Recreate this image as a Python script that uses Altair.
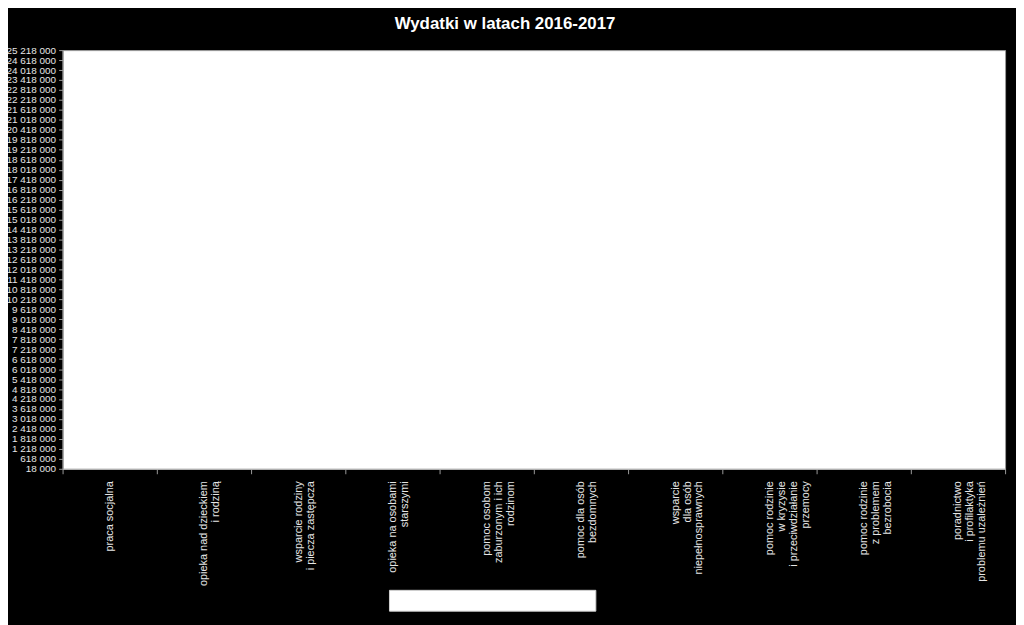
import altair as alt
import pandas as pd

categories = [
    "praca socjalna",
    "opieka nad dzieckiem\ni rodziną",
    "wsparcie rodziny\ni piecza zastępcza",
    "opieka na osobami\nstarszymi",
    "pomoc osobom\nzaburzonym i ich\nrodzinom",
    "pomoc dla osób\nbezdomnych",
    "wsparcie\ndla osób\nniepełnosprawnych",
    "pomoc rodzinie\nw kryzysie\ni przeciwdziałanie\nprzemocy",
    "pomoc rodzinie\nz problemem\nbezrobocia",
    "poradnictwo\ni profilaktyka\nproblemu uzależnień",
]
series = ["2016", "2017"]
values_2016 = [0, 0, 0, 0, 0, 0, 0, 0, 0, 0]
values_2017 = [0, 0, 0, 0, 0, 0, 0, 0, 0, 0]

y_min = 18000
y_max = 25218000
y_step = 600000
y_ticks = list(range(y_min, y_max + 1, y_step))

rows = []
for i, c in enumerate(categories):
    rows.append({"kategoria": c, "rok": "2016", "wartosc": values_2016[i]})
    rows.append({"kategoria": c, "rok": "2017", "wartosc": values_2017[i]})
df = pd.DataFrame(rows)

FONT = "Liberation Sans"
LABEL = "#e6e6e6"

chart = (
    alt.Chart(df)
    .mark_bar(clip=True)
    .encode(
        x=alt.X(
            "kategoria:N",
            sort=categories,
            title=None,
            scale=alt.Scale(paddingInner=0, paddingOuter=0),
            axis=alt.Axis(
                labelAngle=-90,
                labelAlign="right",
                labelBaseline="middle",
                labelExpr="split(datum.label, '\\n')",
                labelLineHeight=12,
                labelPadding=7,
                labelFont=FONT,
                labelFontSize=11,
                labelColor=LABEL,
                tickBand="extent",
                tickColor="#9a9a9a",
                tickSize=5,
                domainColor="#bdbdbd",
                labelLimit=300,
                grid=False,
            ),
        ),
        xOffset=alt.XOffset("rok:N", sort=series),
        y=alt.Y(
            "wartosc:Q",
            title=None,
            scale=alt.Scale(domain=[y_min, y_max], zero=False, nice=False),
            axis=alt.Axis(
                values=y_ticks,
                labelExpr="replace(replace(format(datum.value, ','), ',', ' '), ',', ' ')",
                labelOverlap=False,
                labelFont=FONT,
                labelFontSize=10,
                labelColor=LABEL,
                labelPadding=3,
                tickColor="#9a9a9a",
                tickSize=4,
                domainColor="#9a9a9a",
                grid=False,
            ),
        ),
        color=alt.Color(
            "rok:N",
            sort=series,
            scale=alt.Scale(domain=series, range=["#ffffff", "#ffffff"]),
            legend=alt.Legend(
                title=None,
                orient="none",
                legendX=329,
                legendY=544,
                direction="horizontal",
                fillColor="#ffffff",
                strokeColor="#d0d0d0",
                padding=4,
                labelColor="#ffffff",
                labelFontSize=11,
                labelFont=FONT,
                symbolType="square",
                symbolSize=60,
                columnPadding=118,
                symbolStrokeColor="#ffffff",
            ),
        ),
    )
    .properties(
        width=950,
        height=422,
        background="#000000",
        padding={"left": 55, "top": 40, "right": 11, "bottom": 155},
        autosize=alt.AutoSizeParams(type="none"),
        title=alt.TitleParams(
            "Wydatki w latach 2016-2017",
            color="#ffffff",
            font=FONT,
            fontSize=17,
            fontWeight="bold",
            anchor="middle",
            dx=-29,
            offset=12,
        ),
    )
    .configure_view(fill="#ffffff", stroke="#9a9a9a", strokeWidth=1)
)

chart.save("out.html", embed_options={"renderer": "svg", "actions": False})
